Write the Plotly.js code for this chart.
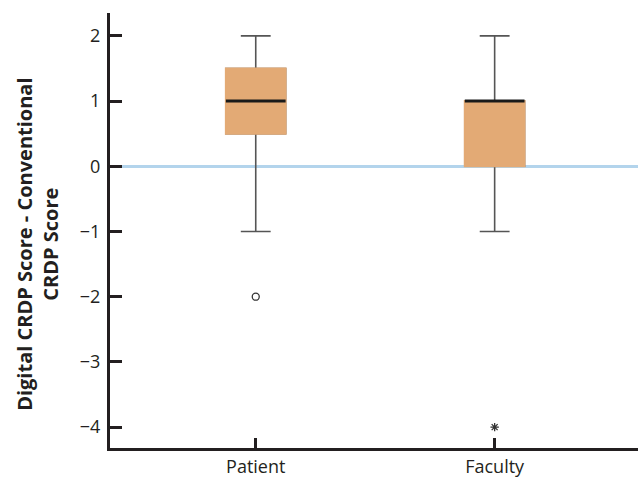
<!DOCTYPE html>
<html>
<head>
<meta charset="utf-8">
<script src="https://cdn.plot.ly/plotly-3.0.1.min.js"></script>
<style>html,body{margin:0;padding:0;background:#fff;}#chart{width:638px;height:477px;}</style>
</head>
<body>
<div id="chart"></div>
<script>
// Data
var categories = ['Patient', 'Faculty'];
var q1 = [0.5, 0];
var medians = [1, 1];
var q3 = [1.5, 1];
var lowerFence = [-1, -1];
var upperFence = [2, 2];
var outlierCats = ['Patient', 'Faculty'];
var outlierValues = [-2, -4];
var outlierSymbols = ['circle-open', 'asterisk-open'];
var yTickValues = [-4, -3, -2, -1, 0, 1, 2];

var FILL = '#E3AA75';
var FONT = 'Open Sans, Noto Sans, sans-serif';
var INK = '#231F20';

var traces = [
  { // whiskers + box
    type: 'box', x: categories, q1: q1, median: medians, q3: q3,
    lowerfence: lowerFence, upperfence: upperFence,
    width: 0.25, whiskerwidth: 0.5,
    fillcolor: FILL, line: {color: '#555555', width: 1.6},
    boxpoints: false, hoverinfo: 'skip', showlegend: false
  },
  { // box body without outline
    type: 'box', x: categories, q1: q1, median: q1, q3: q3,
    lowerfence: q1, upperfence: q3,
    width: 0.25, whiskerwidth: 0,
    fillcolor: FILL, line: {color: FILL, width: 2},
    boxpoints: false, hoverinfo: 'skip', showlegend: false
  },
  { // median line
    type: 'box', x: categories, q1: medians, median: medians, q3: medians,
    lowerfence: medians, upperfence: medians,
    width: 0.25, whiskerwidth: 0,
    fillcolor: 'rgba(0,0,0,0)', line: {color: '#1a1a1a', width: 3},
    boxpoints: false, hoverinfo: 'skip', showlegend: false
  },
  { // outliers
    type: 'scatter', mode: 'markers', x: outlierCats, y: outlierValues,
    marker: {symbol: outlierSymbols, size: 7, color: '#333333', line: {color: '#333333', width: 1.3}},
    showlegend: false, hoverinfo: 'skip'
  }
];

var layout = {
  width: 638, height: 477,
  margin: {l: 110, r: 0, t: 13, b: 29},
  paper_bgcolor: '#ffffff', plot_bgcolor: '#ffffff',
  showlegend: false,
  boxmode: 'overlay',
  font: {family: FONT, size: 18, color: INK},
  xaxis: {
    type: 'category', categoryorder: 'array', categoryarray: categories,
    range: [-0.61, 1.6],
    showline: true, linecolor: INK, linewidth: 3,
    ticks: 'inside', ticklen: 10, tickwidth: 3, tickcolor: INK,
    showgrid: false, zeroline: false,
    tickfont: {family: FONT, size: 18, color: INK}
  },
  yaxis: {
    range: [-4.32, 2.35],
    tickvals: yTickValues,
    showline: true, linecolor: INK, linewidth: 3,
    ticks: 'inside', ticklen: 12, tickwidth: 3, tickcolor: INK,
    showgrid: false,
    zeroline: true, zerolinecolor: '#B3D4EC', zerolinewidth: 3,
    tickfont: {family: FONT, size: 18, color: INK},
    ticklabelstandoff: 3
  },
  annotations: [{
    text: '<b>Digital CRDP Score - Conventional<br>CRDP Score</b>',
    xref: 'paper', yref: 'paper', x: 0, y: 0.467,
    xanchor: 'center', yanchor: 'middle', xshift: -72,
    textangle: -90, showarrow: false,
    font: {family: FONT, size: 20, color: INK}
  }]
};

Plotly.newPlot('chart', traces, layout, {displayModeBar: false, staticPlot: true});
</script>
</body>
</html>
